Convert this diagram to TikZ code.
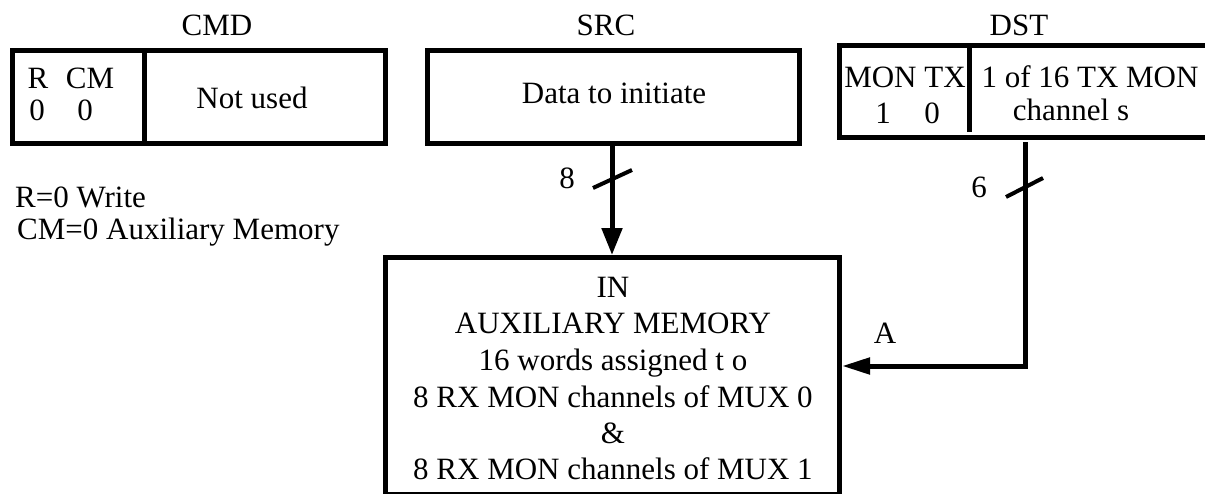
\documentclass[tikz,border=0pt]{standalone}
\usepackage{fontspec}
\setmainfont{Liberation Serif}
\usetikzlibrary{arrows.meta}
\begin{document}
\begin{tikzpicture}[x=1pt,y=-1pt,
  box/.style={draw, line width=5pt, rectangle, inner sep=0pt},
  txt/.style={font=\fontsize{31}{36}\selectfont, inner sep=0pt},
  conn/.style={line width=5pt},
  divider/.style={line width=5pt},
  slash/.style={line width=4pt}]
\useasboundingbox (0,0) rectangle (1205,493);
% boxes
\node[box, minimum width=373pt, minimum height=93pt] (cmd) at (199,97) {};
\node[box, minimum width=372pt, minimum height=93pt] (src) at (613.5,97) {};
\node[box, minimum width=375.5pt, minimum height=92pt] (dst) at (1027.25,91.5) {};
\node[box, minimum width=454pt, minimum height=236.5pt] (mem) at (612.5,375.75) {};
% dividers
\draw[divider] (144.5,50.5) -- (144.5,143.5);
\draw[divider] (969.5,45.5) -- (969.5,132);
% headers
\node[txt, anchor=base] (cmdl) at (217,35) {CMD};
\node[txt, anchor=base] (srcl) at (606,35) {SRC};
\node[txt, anchor=base] (dstl) at (1019,35) {DST};
% CMD contents
\node[txt, anchor=base] (rl) at (38,88) {R};
\node[txt, anchor=base] (cml) at (90,88) {CM};
\node[txt, anchor=base] (r0) at (37,120) {0};
\node[txt, anchor=base] (cm0) at (85,120) {0};
\node[txt, anchor=base] (nu) at (252,108) {Not used};
% SRC contents
\node[txt, anchor=base] (dti) at (614,103) {Data to initiate};
% DST contents
\node[txt, anchor=base] (montx) at (905,87) {MON TX};
\node[txt, anchor=base] (mon1) at (883,123) {1};
\node[txt, anchor=base] (tx0) at (932,123) {0};
\node[txt, anchor=base] (of16) at (1090,87) {1 of 16 TX MON};
\node[txt, anchor=base] (chs) at (1071,120) {channel s};
% legend
\node[txt, anchor=base west] (leg1) at (15,207) {R=0 Write};
\node[txt, anchor=base west] (leg2) at (17,239) {CM=0 Auxiliary Memory};
% memory contents
\node[txt, anchor=base] (m1) at (613,297) {IN};
\node[txt, anchor=base] (m2) at (613,333) {AUXILIARY MEMORY};
\node[txt, anchor=base] (m3) at (613,370) {16 words assigned t o};
\node[txt, anchor=base] (m4) at (613,407) {8 RX MON channels of MUX 0};
\node[txt, anchor=base] (m5) at (613,443) {\&};
\node[txt, anchor=base] (m6) at (613,479) {8 RX MON channels of MUX 1};
% connectors
\coordinate (srcx) at (612,0);
\draw[conn, -{Triangle[width=20pt,length=27pt]}] (src.south -| srcx) -- (mem.north -| srcx);
\coordinate (turn) at (1025,366);
\draw[conn, shorten <=2pt, -{Triangle[width=16pt,length=28pt]}] (turn |- dst.south) -- (turn) -- (turn -| mem.east);
% bus slashes and labels
\draw[slash] (593,188) -- (632,170);
\node[txt, anchor=base] (n8) at (567,188) {8};
\draw[slash] (1006,197) -- (1043,178);
\node[txt, anchor=base] (n6) at (979,197) {6};
\node[txt, anchor=base] (la) at (885,343) {A};
\end{tikzpicture}
\end{document}
